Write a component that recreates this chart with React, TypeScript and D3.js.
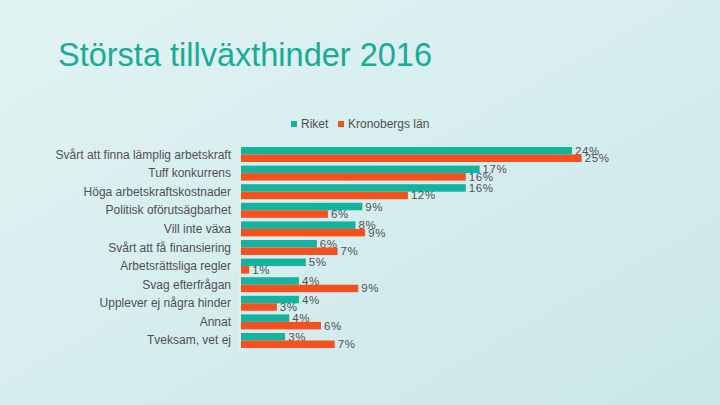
import React from "react";
import * as d3 from "d3";

const categories = [
  "Svårt att finna lämplig arbetskraft",
  "Tuff konkurrens",
  "Höga arbetskraftskostnader",
  "Politisk oförutsägbarhet",
  "Vill inte växa",
  "Svårt att få finansiering",
  "Arbetsrättsliga regler",
  "Svag efterfrågan",
  "Upplever ej några hinder",
  "Annat",
  "Tveksam, vet ej",
];
const riket = [24.0, 17.3, 16.3, 8.8, 8.3, 5.5, 4.7, 4.2, 4.2, 3.5, 3.2];
const kronoberg = [24.7, 16.3, 12.1, 6.3, 9.0, 7.0, 0.6, 8.5, 2.6, 5.8, 6.8];
const seriesNames = ["Riket", "Kronobergs län"];
const seriesColors = ["#14b3a0", "#f4511e"];

const W = 720;
const H = 405;
const font = "'Liberation Sans', Arial, sans-serif";
const textColor = "#505050";

export default function App() {
  const x = d3.scaleLinear().domain([0, 24]).range([241, 572]);
  const y = d3
    .scaleBand<string>()
    .domain(categories)
    .range([143.4, 351.6])
    .paddingInner(0.194)
    .paddingOuter(0.194);
  const sub = d3
    .scaleBand<string>()
    .domain(seriesNames)
    .range([0, y.bandwidth()]);
  const series = [riket, kronoberg];

  return (
    <svg
      width={W}
      height={H}
      style={{ position: "fixed", left: 0, top: 0, display: "block" }}
    >
      <defs>
        <linearGradient id="bg" x1="0" y1="0" x2="1" y2="1">
          <stop offset="0" stopColor="#e2f3f3" />
          <stop offset="1" stopColor="#cbe7e9" />
        </linearGradient>
      </defs>
      <rect width={W} height={H} fill="url(#bg)" />

      <text x={58} y={66} fontFamily={font} fontSize={32.5} fill="#17ab9a">
        Största tillväxthinder 2016
      </text>

      {/* legend */}
      {seriesNames.map((name, i) => {
        const lx = i === 0 ? 291 : 338;
        return (
          <g key={name}>
            <rect x={lx} y={121} width={6} height={6} fill={seriesColors[i]} />
            <text
              x={lx + 10}
              y={128}
              fontFamily={font}
              fontSize={12}
              fill={textColor}
            >
              {name}
            </text>
          </g>
        );
      })}

      <line x1={240} x2={240} y1={143} y2={352} stroke="#f3ebe4" strokeWidth={1.5} />

      {categories.map((c, ci) => (
        <g key={c}>
          <text
            x={231}
            y={y(c)! + y.bandwidth() / 2 + 4}
            textAnchor="end"
            fontFamily={font}
            fontSize={12}
            fill={textColor}
          >
            {c}
          </text>
          {series.map((vals, si) => {
            const by = y(c)! + sub(seriesNames[si])!;
            const bw = x(vals[ci]) - x(0);
            return (
              <g key={si}>
                <rect
                  x={x(0)}
                  y={by}
                  width={bw}
                  height={sub.bandwidth()}
                  fill={seriesColors[si]}
                />
                <text
                  x={x(vals[ci]) + 3}
                  y={by + sub.bandwidth() / 2 + 4}
                  fontFamily={font}
                  fontSize={11.5}
                  letterSpacing={0.6}
                  fill={textColor}
                >
                  {Math.round(vals[ci])}%
                </text>
              </g>
            );
          })}
        </g>
      ))}
    </svg>
  );
}
